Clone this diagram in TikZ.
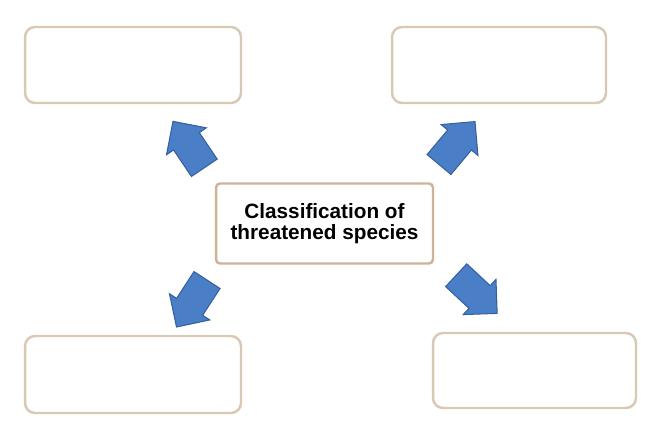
\documentclass[tikz,border=0pt]{standalone}
\usepackage{fontspec}
\setmainfont{Liberation Sans}
\usetikzlibrary{shapes.arrows}

\definecolor{boxline}{HTML}{D9C8B4}
\definecolor{midline}{HTML}{CDB497}
\definecolor{arrowfill}{HTML}{4A7EC6}
\definecolor{arrowline}{HTML}{35619E}

\begin{document}
\begin{tikzpicture}[x=0.02cm, y=0.02cm,
    emptybox/.style={draw=boxline, line width=1.4pt, rounded corners=0.2cm, fill=white, anchor=center},
    centrebox/.style={draw=midline, line width=1.4pt, rounded corners=0.08cm, fill=white, align=center,
        font=\bfseries\fontsize{11.8}{11.6}\selectfont, minimum width=4.34cm, minimum height=1.6cm},
    blockarrow/.style={single arrow, draw=arrowline, fill=arrowfill, line width=0.6pt, inner sep=0.3cm,
        single arrow head extend=0.17cm, minimum height=1.12cm, anchor=center}]
    \useasboundingbox (0,0) rectangle (651,430);
    % four empty boxes
    \node[emptybox, minimum width=4.32cm, minimum height=1.52cm] (topleft) at (133,365) {};
    \node[emptybox, minimum width=4.28cm, minimum height=1.52cm] (topright) at (499,365) {};
    \node[emptybox, minimum width=4.32cm, minimum height=1.54cm] (bottomleft) at (133,55.5) {};
    \node[emptybox, minimum width=4.06cm, minimum height=1.5cm] (bottomright) at (534.5,59.5) {};
    % centre
    \node[centrebox] (classif) at (324.5,206.5) {Classification of\\threatened species};
    % block arrows
    \node[blockarrow, rotate=124] (arrowTL) at (193,279) {};
    \node[blockarrow, rotate=50] (arrowTR) at (452,281) {};
    \node[blockarrow, rotate=237] (arrowBL) at (196,133) {};
    \node[blockarrow, rotate=-43] (arrowBR) at (471,141) {};
\end{tikzpicture}
\end{document}
